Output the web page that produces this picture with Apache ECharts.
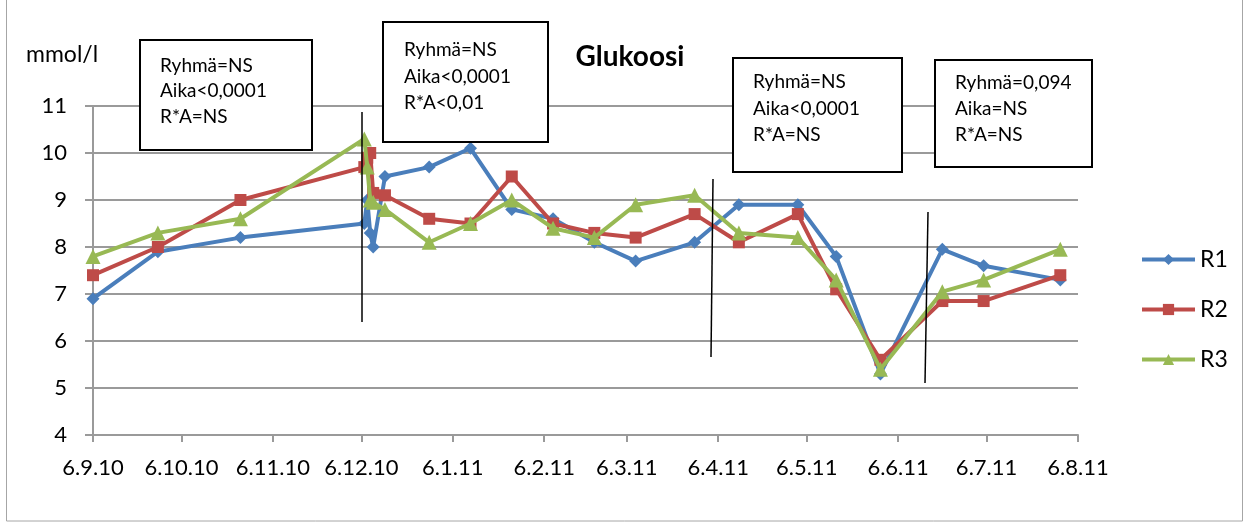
<!DOCTYPE html>
<html>
<head>
<meta charset="utf-8">
<script src="https://cdn.jsdelivr.net/npm/echarts@6/dist/echarts.min.js"></script>
<style>
html, body { margin: 0; padding: 0; background: #ffffff; }
#chart { width: 1250px; height: 529px; }
</style>
</head>
<body>
<div id="chart"></div>
<script>
// Monthly tick labels (d.m.yy)
const tickLabels = ['6.9.10', '6.10.10', '6.11.10', '6.12.10', '6.1.11', '6.2.11',
  '6.3.11', '6.4.11', '6.5.11', '6.6.11', '6.7.11', '6.8.11'];

// Sampling dates
const sampleDates = ['2010-09-06', '2010-09-28', '2010-10-26', '2010-12-07', '2010-12-08',
  '2010-12-09', '2010-12-10', '2010-12-14', '2010-12-29', '2011-01-12', '2011-01-26',
  '2011-02-09', '2011-02-23', '2011-03-09', '2011-03-29', '2011-04-13', '2011-05-03',
  '2011-05-16', '2011-05-31', '2011-06-21', '2011-07-05', '2011-07-31'];

// Glucose, mmol/l
const r1 = [6.9, 7.9, 8.2, 8.5, 9.0, 8.3, 8.0, 9.5, 9.7, 10.1, 8.8,
  8.6, 8.1, 7.7, 8.1, 8.9, 8.9, 7.8, 5.3, 7.95, 7.6, 7.3];
const r2 = [7.4, 8.0, 9.0, 9.7, 9.9, 10.0, 9.15, 9.1, 8.6, 8.5, 9.5,
  8.5, 8.3, 8.2, 8.7, 8.1, 8.7, 7.1, 5.6, 6.85, 6.85, 7.4];
const r3 = [7.8, 8.3, 8.6, 10.3, 9.7, 9.0, 8.95, 8.8, 8.1, 8.5, 9.0,
  8.4, 8.2, 8.9, 9.1, 8.3, 8.2, 7.3, 5.4, 7.05, 7.3, 7.95];

const seriesNames = ['R1', 'R2', 'R3'];

// Statistical notes for each period
const notes = [
  ['Ryhmä=NS', 'Aika<0,0001', 'R*A=NS'],
  ['Ryhmä=NS', 'Aika<0,0001', 'R*A<0,01'],
  ['Ryhmä=NS', 'Aika<0,0001', 'R*A=NS'],
  ['Ryhmä=0,094', 'Aika=NS', 'R*A=NS']
];

const FONT = 'Lato, "Open Sans", sans-serif';
const DAY = 86400000;

// Dates are placed on a day-number scale (UTC days)
function fromTick(s) {
  const [d, m, y] = s.split('.').map(Number);
  return Date.UTC(2000 + y, m - 1, d) / DAY;
}
function fromIso(s) {
  const [y, m, d] = s.split('-').map(Number);
  return Date.UTC(y, m - 1, d) / DAY;
}
const tickValues = tickLabels.map(fromTick);
const labelByValue = {};
tickValues.forEach((v, i) => { labelByValue[v] = tickLabels[i]; });
const xs = sampleDates.map(fromIso);

function pairs(vals) { return vals.map((v, i) => [xs[i], v]); }

const colors = ['#4a7ebb', '#be4b48', '#98b954'];
const symbols = ['diamond', 'rect', 'triangle'];
const symbolSizes = [13, 12, 15];

const series = [r1, r2, r3].map((vals, i) => ({
  name: seriesNames[i],
  type: 'line',
  data: pairs(vals),
  symbol: symbols[i],
  symbolSize: symbolSizes[i],
  showAllSymbol: true,
  lineStyle: { width: 4, color: colors[i] },
  itemStyle: { color: colors[i] },
  emphasis: { disabled: true },
  z: 3 + i
}));

// Annotation boxes: [x, y, w, h, textX, textY, lineHeight]
const boxes = [
  [140, 40, 172, 110, 160, 53, 25.5],
  [383, 22, 165, 120, 404, 37, 26.5],
  [733, 58, 169, 114, 753, 69, 26.5],
  [935, 60, 157, 107, 955, 70, 26]
];

// Period dividers
const dividers = [
  [362, 112, 362, 322],
  [713, 179, 711, 357],
  [928, 212, 925, 383]
];

const graphics = [
  { type: 'rect', shape: { x: 6.5, y: -1, width: 1236, height: 522 },
    style: { fill: null, stroke: '#a6a6a6', lineWidth: 1 }, z: 0 },
  { type: 'text', x: 26, y: 55, style: { text: 'mmol/l', font: '23px ' + FONT,
    fill: '#000', textVerticalAlign: 'middle' }, z: 10 },
  { type: 'text', x: 630, y: 57, style: { text: 'Glukoosi', font: 'bold 28px ' + FONT,
    fill: '#000', textAlign: 'center', textVerticalAlign: 'middle' }, z: 10 }
];
boxes.forEach((b, i) => {
  graphics.push({ type: 'rect', shape: { x: b[0], y: b[1], width: b[2], height: b[3] },
    style: { fill: '#fff', stroke: '#000', lineWidth: 2 }, z: 10 });
  graphics.push({ type: 'text', x: b[4], y: b[5], style: { text: notes[i].join('\n'),
    font: '19px ' + FONT, lineHeight: b[6], fill: '#000' }, z: 11 });
});
dividers.forEach(d => {
  graphics.push({ type: 'line', shape: { x1: d[0], y1: d[1], x2: d[2], y2: d[3] },
    style: { stroke: '#000', lineWidth: 1.5 }, z: 12 });
});

const chart = echarts.init(document.getElementById('chart'));
chart.setOption({
  animation: false,
  backgroundColor: '#fff',
  grid: { left: 93, top: 106, width: 985, height: 329, containLabel: false },
  legend: {
    orient: 'vertical',
    left: 1140,
    top: 248,
    padding: 0,
    itemWidth: 53,
    itemHeight: 14,
    itemGap: 27,
    lineStyle: { width: 4 },
    textStyle: { fontFamily: FONT, fontSize: 23, color: '#000', lineHeight: 22 },
    data: seriesNames
  },
  xAxis: {
    type: 'value',
    min: tickValues[0],
    max: tickValues[tickValues.length - 1],
    axisLine: { lineStyle: { color: '#9a9a9a', width: 2 } },
    axisTick: { show: true, length: 7, customValues: tickValues,
      lineStyle: { color: '#9a9a9a', width: 2 } },
    axisLabel: {
      customValues: tickValues,
      formatter: v => labelByValue[v] || '',
      fontFamily: FONT, fontSize: 22, color: '#000', margin: 22
    },
    splitLine: { show: false }
  },
  yAxis: {
    type: 'value',
    min: 4, max: 11, interval: 1,
    axisLine: { show: true, lineStyle: { color: '#9a9a9a', width: 2 } },
    axisTick: { show: true, length: 8, lineStyle: { color: '#9a9a9a', width: 2 } },
    axisLabel: { fontFamily: FONT, fontSize: 22, color: '#000', margin: 26 },
    splitLine: { lineStyle: { color: '#9a9a9a', width: 2 } }
  },
  series: series,
  graphic: graphics
});
</script>
</body>
</html>
